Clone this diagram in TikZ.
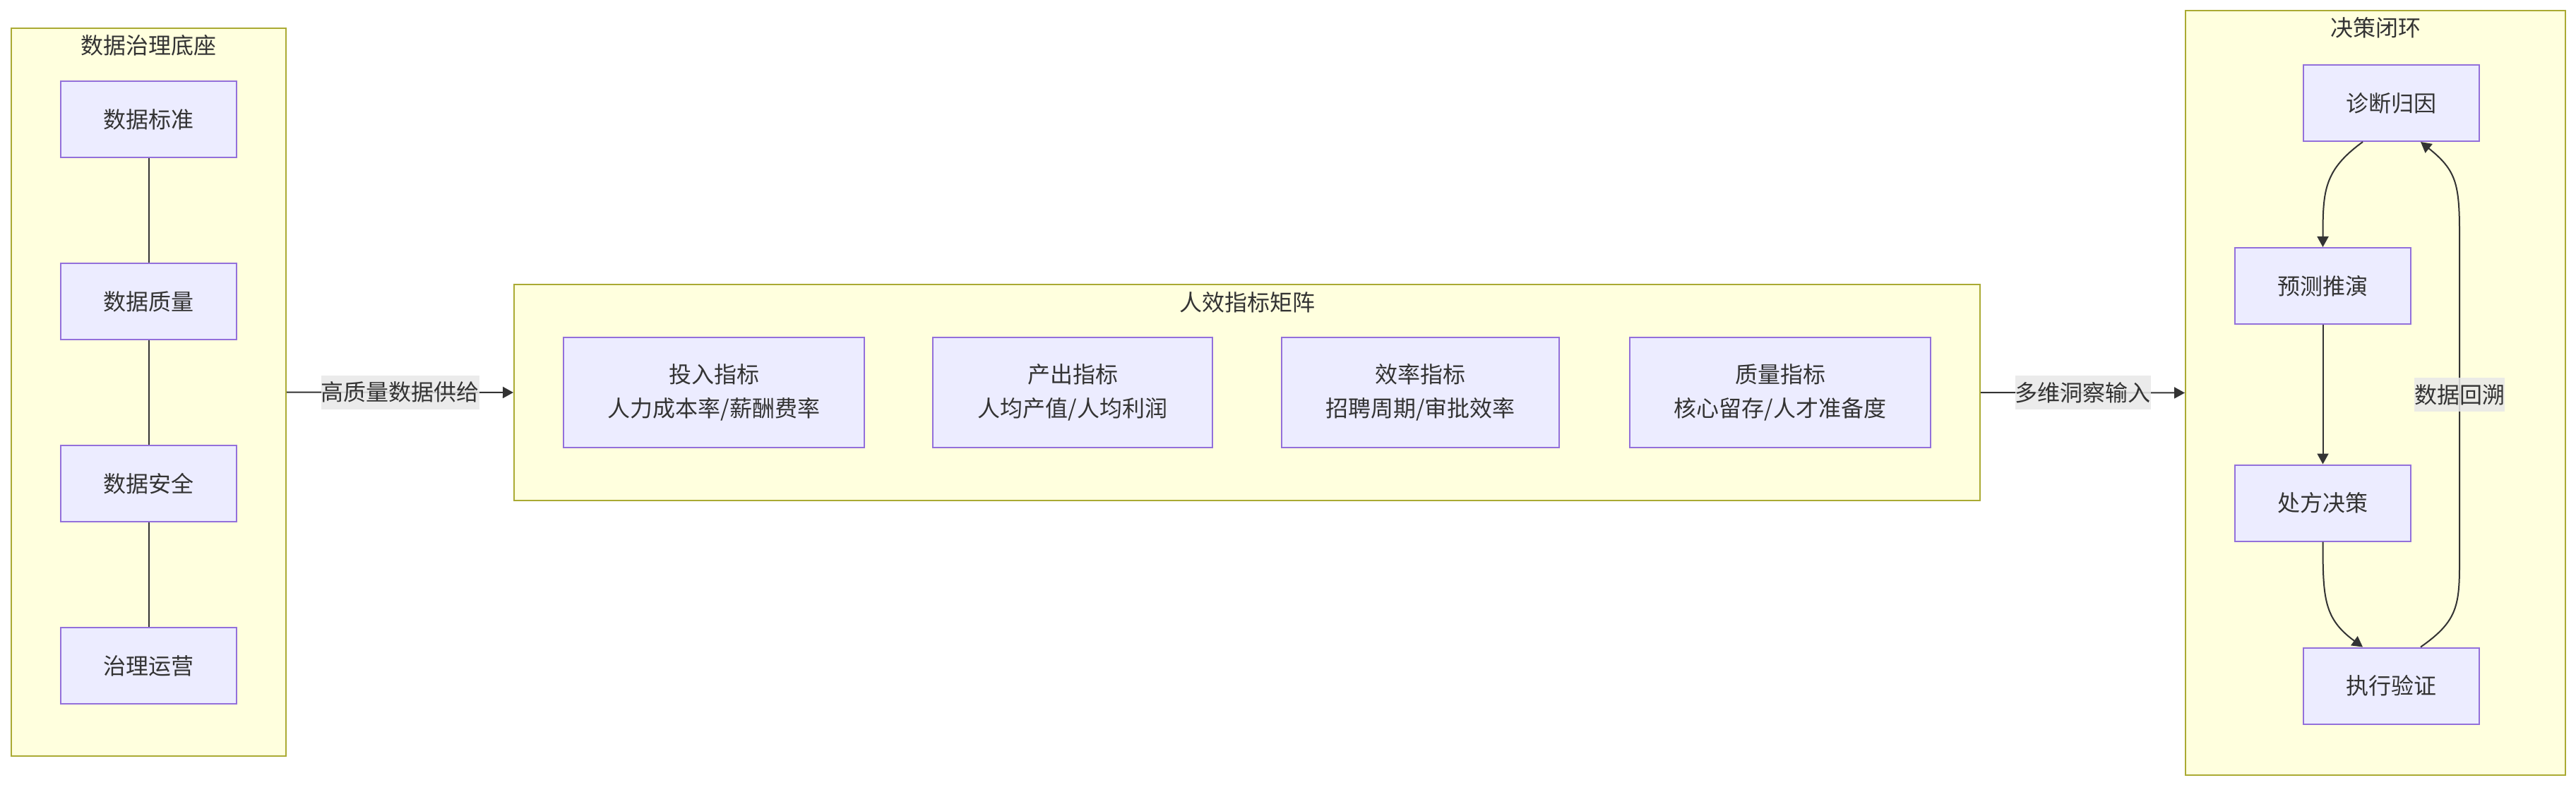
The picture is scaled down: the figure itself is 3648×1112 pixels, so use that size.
\documentclass[tikz,border=0pt]{standalone}
\usepackage{fontspec}
\setmainfont{Noto Sans CJK SC}
\usetikzlibrary{arrows.meta,calc}
\definecolor{clfill}{HTML}{FFFFDE}
\definecolor{clstroke}{HTML}{AAAA33}
\definecolor{ndfill}{HTML}{ECECFF}
\definecolor{ndstroke}{HTML}{9370DB}
\definecolor{ink}{HTML}{333333}
\definecolor{lblbg}{HTML}{E8E8E8}
\begin{document}
\begin{tikzpicture}[x=0.5pt,y=-0.5pt,
  every node/.style={font=\fontsize{16}{24}\selectfont, text=ink},
  cluster/.style={draw=clstroke, fill=clfill, line width=1pt, rectangle, inner sep=0pt},
  box/.style={draw=ndstroke, fill=ndfill, line width=1pt, rectangle, align=center, inner sep=0pt},
  ttl/.style={inner sep=0pt},
  link/.style={draw=ink, line width=1pt},
  flow/.style={link, -{Triangle[length=7.5pt,width=8pt]}},
  elabel/.style={fill=lblbg, fill opacity=0.85, text opacity=1, inner sep=0pt, minimum height=24pt}
]
\useasboundingbox (0,0) rectangle (3648,1112);

% clusters
\node[cluster, minimum width=194.5pt, minimum height=515.5pt] (base) at (210.5,555.5) {};
\node[ttl] (baset) at (210.5,64) {数据治理底座};
\node[cluster, minimum width=1038pt, minimum height=153pt] (mat) at (1766,556) {};
\node[ttl] (matt) at (1766,428) {人效指标矩阵};
\node[cluster, minimum width=269pt, minimum height=541.5pt] (loop) at (3364,556.5) {};
\node[ttl] (loopt) at (3364,39) {决策闭环};

% left nodes
\node[box, minimum width=124.5pt, minimum height=54pt] (s1) at (210.5,169) {数据标准};
\node[box, minimum width=124.5pt, minimum height=54pt] (s2) at (210.5,427) {数据质量};
\node[box, minimum width=124.5pt, minimum height=54pt] (s3) at (210.5,685) {数据安全};
\node[box, minimum width=124.5pt, minimum height=54pt] (s4) at (210.5,943) {治理运营};

% middle nodes
\node[box, minimum width=213pt, minimum height=78pt] (m1) at (1011,556) {投入指标\\人力成本率/薪酬费率};
\node[box, minimum width=198pt, minimum height=78pt] (m2) at (1519,556) {产出指标\\人均产值/人均利润};
\node[box, minimum width=196.5pt, minimum height=78pt] (m3) at (2011.5,556) {效率指标\\招聘周期/审批效率};
\node[box, minimum width=213pt, minimum height=78pt] (m4) at (2521,556) {质量指标\\核心留存/人才准备度};

% right nodes
\node[box, minimum width=124.5pt, minimum height=54pt] (diag) at (3386.5,146) {诊断归因};
\node[box, minimum width=124.5pt, minimum height=54pt] (pred) at (3289.5,405) {预测推演};
\node[box, minimum width=124.5pt, minimum height=54pt] (presc) at (3289.5,712.5) {处方决策};
\node[box, minimum width=124.5pt, minimum height=54pt] (exec) at (3386.5,971.5) {执行验证};

% left chain
\draw[link] (s1.south) -- (s2.north);
\draw[link] (s2.south) -- (s3.north);
\draw[link] (s3.south) -- (s4.north);

% cross-cluster
\draw[flow] (base.east) -- (mat.west) node[elabel, midway] {高质量数据供给};
\draw[flow] (mat.east) -- (loop.west) node[elabel, midway] {多维洞察输入};

% loop
\draw[flow] ($(diag.south)+(-40.5,0)$) .. controls +(-55,40) and +(0,-80) .. (pred.north);
\draw[flow] (pred.south) -- (presc.north);
\draw[flow] (presc.south) .. controls +(0,80) and +(-55,-40) .. ($(exec.north)+(-40.5,0)$);
\coordinate (bk1) at (3483,800);
\coordinate (bk2) at (3483,330);
\draw[flow] ($(exec.north)+(41.5,0)$) .. controls +(50,-35) and +(0,60) .. (bk1) -- (bk2) .. controls +(0,-70) and +(50,40) .. ($(diag.south)+(41.5,0)$);
\node[elabel] (backlbl) at (3483,559) {数据回溯};
\end{tikzpicture}
\end{document}
